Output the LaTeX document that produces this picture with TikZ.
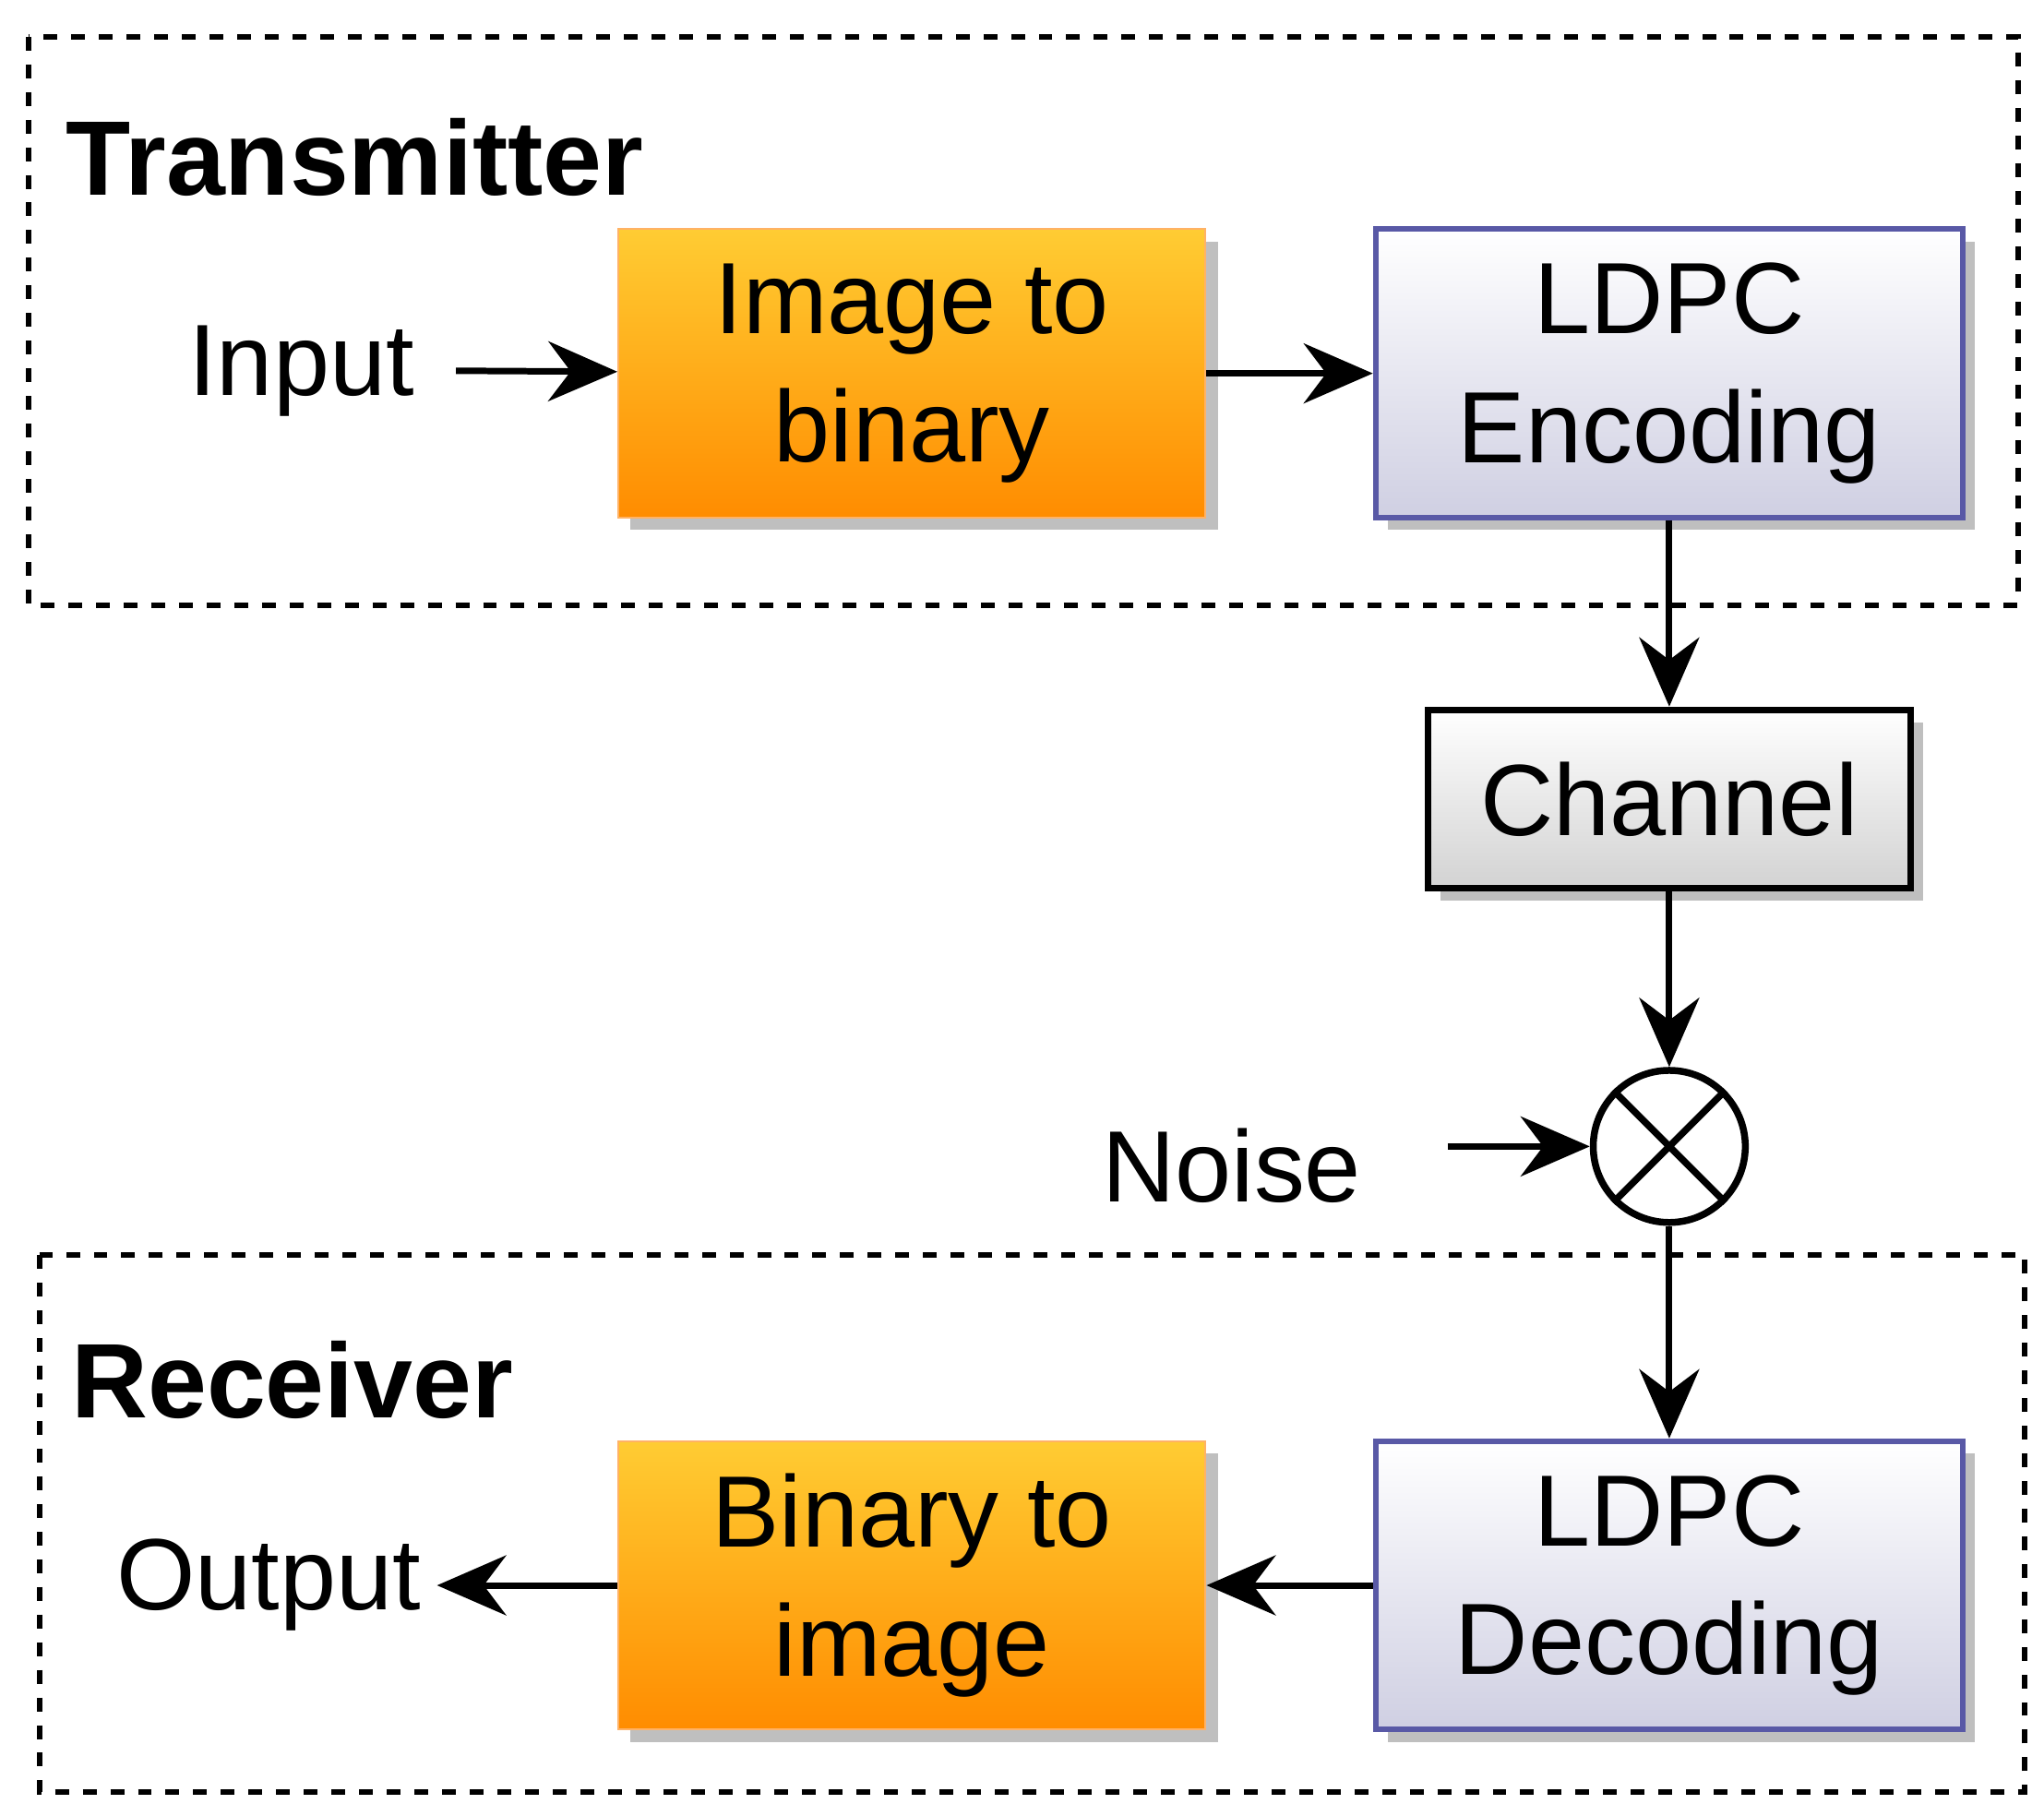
\documentclass[tikz,border=0pt]{standalone}
\usepackage{fontspec}
\setmainfont{Liberation Sans}
\usetikzlibrary{shapes.geometric,arrows,arrows.meta,positioning,shadows}
\tikzstyle{arrow} = [line width=1.4pt,-{Stealth[length=15pt,width=13pt]}]
\tikzstyle{conv} = [rectangle, minimum width=4.48cm, minimum height=2.2cm, align=center, draw=orange!60, top color=yellow!50!orange!80, bottom color=orange!90!yellow, drop shadow]
\tikzstyle{ldpc} = [rectangle, minimum width=4.48cm, minimum height=2.2cm, align=center, draw=blue!30!gray, line width=1.2pt, top color=white, bottom color=blue!25!gray!30, drop shadow]
\begin{document}
\begin{tikzpicture}[x=0.01cm,y=-0.01cm,font=\fontsize{22}{28}\selectfont]
		\useasboundingbox (0,0) rectangle (1560,1386);
		\coordinate (imgbin) at (696,285);
		\coordinate (enc) at (1274,285);
		\coordinate (chan) at (1274,610);
		\coordinate (dec) at (1274,1210);
		\coordinate (binimg) at (696,1210);
		% Frames
		\draw[dashed, line width=1.2pt] (22,28) rectangle (1540,462);
		\draw[dashed, line width=1.2pt] (30,958) rectangle (1545,1368);
		\node[anchor=west, font=\fontsize{23}{28}\selectfont\bfseries, name=tx] at (38,120) {Transmitter};
		\node[anchor=west, font=\fontsize{23}{28}\selectfont\bfseries, name=rx] at (42,1053) {Receiver};
		% Blocks
		\node[conv, name=imgbin] at (imgbin) {Image to\\binary};
		\node[conv, name=binimg] at (binimg) {Binary to\\image};
		\node[ldpc, name=enc] at (enc) {LDPC\\Encoding};
		\node[ldpc, name=dec] at (dec) {LDPC\\Decoding};
		\node[rectangle, draw, line width=1.5pt, minimum width=3.68cm, minimum height=1.36cm, top color=white, bottom color=gray!35, drop shadow, name=chan] at (chan) {Channel};
		\node[circle, draw, line width=1.5pt, minimum size=1.16cm, name=mix] at (1274,875) {};
		\draw[line width=1.5pt] (mix.north west) -- (mix.south east) (mix.north east) -- (mix.south west);
		% Labels
		\node[name=input] at (230,283) {Input};
		\node[name=noise] at (940,890) {Noise};
		\node[name=output] at (205,1210) {Output};
		\coordinate (inp) at (348,283);
		\coordinate (nse) at (1105,875);
		\draw [arrow] (inp)--(imgbin);
		\draw [arrow] (imgbin)--(enc);
		\draw [arrow] (enc)--(chan);
		\draw [arrow] (chan)--(mix);
		\draw [arrow] (nse)--(mix);
		\draw [arrow] (mix)--(dec);
		\draw [arrow] (dec)--(binimg);
		\draw [arrow] (binimg)--(output);
\end{tikzpicture}
\end{document}
